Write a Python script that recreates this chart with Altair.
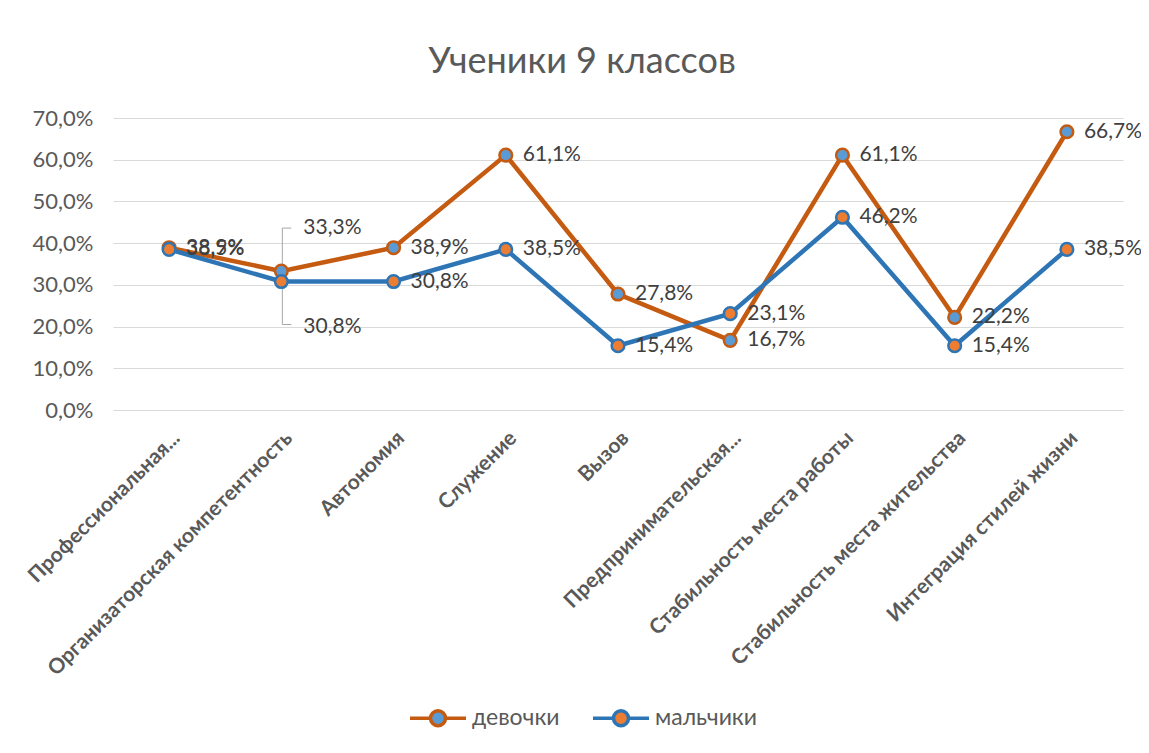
import altair as alt
import pandas as pd

categories = [
    "Профессиональная...",
    "Организаторская компетентность",
    "Автономия",
    "Служение",
    "Вызов",
    "Предпринимательская...",
    "Стабильность места работы",
    "Стабильность места жительства",
    "Интеграция стилей жизни",
]
series_names = ["девочки", "мальчики"]
girls = [38.9, 33.3, 38.9, 61.1, 27.8, 16.7, 61.1, 22.2, 66.7]
boys = [38.5, 30.8, 30.8, 38.5, 15.4, 23.1, 46.2, 15.4, 38.5]

rows = []
for s, vals in zip(series_names, [girls, boys]):
    for c, v in zip(categories, vals):
        rows.append({"cat": c, "series": s, "value": v,
                     "label": f"{v:.1f}%".replace(".", ",")})
df = pd.DataFrame(rows)

line_colors = ["#C55A11", "#2E75B6"]
fill_colors = ["#5B9BD5", "#ED7D31"]
FONT = "Lato"
TXT = "#404040"
LBL = 21

x = alt.X("cat:N", sort=categories, title=None,
          axis=alt.Axis(labelAngle=-45, labelFontSize=21, labelFontWeight="bold",
                        labelColor="#595959", ticks=False, domain=False,
                        labelPadding=17, labelFont=FONT, labelLimit=500))
y = alt.Y("value:Q", title=None,
          scale=alt.Scale(domain=[0, 70], nice=False),
          axis=alt.Axis(values=[0, 10, 20, 30, 40, 50, 60, 70],
                        labelExpr="replace(format(datum.value, '.1f'), '.', ',') + '%'",
                        labelFontSize=22, labelColor="#595959", labelFont=FONT,
                        ticks=False, domain=False, gridColor="#D9D9D9",
                        labelPadding=20))

stroke = alt.Stroke("series:N", sort=series_names,
                    scale=alt.Scale(domain=series_names, range=line_colors),
                    legend=alt.Legend(title=None))
fill = alt.Fill("series:N", sort=series_names,
                scale=alt.Scale(domain=series_names, range=fill_colors),
                legend=alt.Legend(title=None))

base = alt.Chart(df)

lines = base.mark_line(strokeWidth=4.5).encode(x=x, y=y, stroke=stroke,
                                                detail="series:N")
points = base.mark_point(filled=True, shape="circle", size=160, strokeWidth=2.5,
                         opacity=1).encode(x=x, y=y, stroke=stroke, fill=fill)

normal = base.transform_filter(alt.datum.cat != categories[1])
labels = normal.mark_text(align="left", baseline="middle", dx=17, fontSize=LBL,
                          color=TXT, font=FONT).encode(
    x=x, y=y, text="label:N")

org = base.transform_filter(alt.datum.cat == categories[1])
org_up = org.transform_filter(alt.datum.series == series_names[0])
org_down = org.transform_filter(alt.datum.series == series_names[1])
lab_up = org_up.mark_text(align="left", baseline="middle", dx=22, dy=-43,
                          fontSize=LBL, color=TXT, font=FONT).encode(
    x=x, y=y, text="label:N")
lab_down = org_down.mark_text(align="left", baseline="middle", dx=22, dy=45,
                              fontSize=LBL, color=TXT, font=FONT).encode(
    x=x, y=y, text="label:N")

LEAD = "#A6A6A6"
lead_up_v = org_up.mark_rule(color=LEAD, strokeWidth=1, xOffset=1,
                             y2Offset=-43).encode(x=x, y=y, y2="value:Q")
lead_up_h = org_up.mark_rule(color=LEAD, strokeWidth=1, xOffset=1, x2Offset=10,
                             yOffset=-43).encode(x=x, x2="cat:N", y=y)
lead_dn_v = org_down.mark_rule(color=LEAD, strokeWidth=1, xOffset=1,
                               y2Offset=43).encode(x=x, y=y, y2="value:Q")
lead_dn_h = org_down.mark_rule(color=LEAD, strokeWidth=1, xOffset=1, x2Offset=10,
                               yOffset=43).encode(x=x, x2="cat:N", y=y)

legend_path = ("M-2.8,0 L-0.75,0 M0.75,0 L2.8,0 "
               "M0.75,0 A0.75,0.75 0 1,1 -0.75,0 A0.75,0.75 0 1,1 0.75,0 Z")

chart = alt.layer(lead_up_v, lead_up_h, lead_dn_v, lead_dn_h,
                  lines, points, labels, lab_up, lab_down).properties(
    width=1010, height=292, autosize="none",
    padding={"left": 105, "top": 110, "right": 18, "bottom": 330},
    title=alt.TitleParams("Ученики 9 классов", fontSize=36, font=FONT,
                          fontWeight="normal", color="#595959", anchor="middle",
                          dx=-36, offset=26),
).configure_view(stroke=None).configure_legend(
    orient="none", legendX=313, legendY=588, direction="horizontal",
    symbolType=legend_path, symbolSize=400, symbolStrokeWidth=3.5,
    labelFontSize=23, labelColor="#595959", labelFont=FONT, labelOffset=22,
    columnPadding=26, symbolOpacity=1,
)

chart.save("out.html", embed_options={"renderer": "svg", "actions": False})
